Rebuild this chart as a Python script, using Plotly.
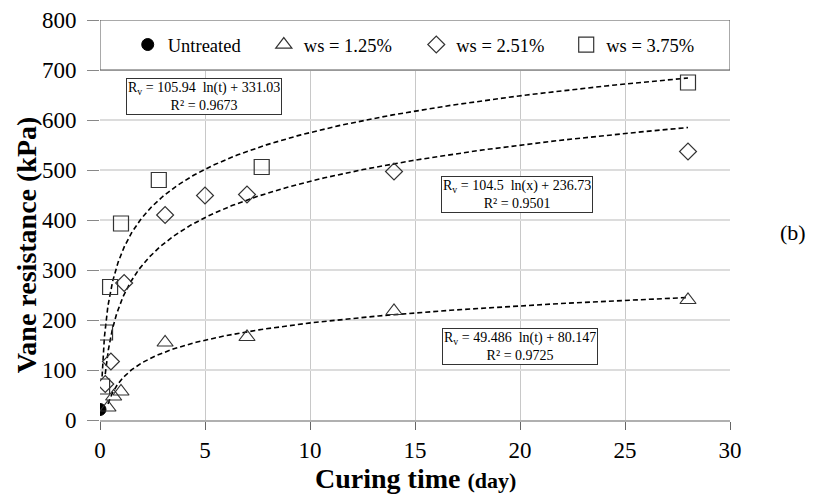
import numpy as np
import plotly.graph_objects as go

# ---- data ----
untreated_t = [0.0]
untreated_v = [21]

ws125_t = [0.38, 0.65, 1, 3.1, 7, 14, 28]
ws125_v = [25, 47, 57, 155, 166, 218, 240]

ws251_t = [0.25, 0.52, 1.15, 3.1, 5, 7, 14, 28]
ws251_v = [72, 117, 274, 410, 449, 451, 497, 537]

ws375_t = [0.1, 0.24, 0.48, 1, 2.8, 7.7, 28]
ws375_v = [67, 175, 266, 393, 480, 506, 675]

# logarithmic trend-line coefficients (a*ln(t)+b, R²) shown on the chart
fit125 = (49.486, 80.147, 0.9725)
fit251 = (104.5, 236.73, 0.9501)
fit375 = (105.94, 331.03, 0.9673)

x_ticks = [0, 5, 10, 15, 20, 25, 30]
y_ticks = [0, 100, 200, 300, 400, 500, 600, 700, 800]

FONT = "Liberation Serif, Times New Roman, serif"

fig = go.Figure()

def trend(ts, fit):
    t = np.geomspace(min(ts), max(ts), 300)
    return t, fit[0] * np.log(t) + fit[1]

for ts, fit in [(ws125_t, fit125), (ws251_t, fit251), (ws375_t, fit375)]:
    tt, vv = trend(ts, fit)
    fig.add_trace(go.Scatter(x=tt, y=vv, mode="lines", showlegend=False,
                             line=dict(color="black", width=1.6, dash="5px,3px"),
                             hoverinfo="skip"))

fig.add_trace(go.Scatter(x=untreated_t, y=untreated_v, mode="markers", name="Untreated",
                         legend="legend",
                         marker=dict(symbol="circle", size=12, color="black",
                                     line=dict(color="black", width=1))))
fig.add_trace(go.Scatter(x=ws125_t, y=ws125_v, mode="markers", name="ws = 1.25%",
                         legend="legend2",
                         marker=dict(symbol="triangle-up-open", size=14, color="#333333",
                                     line=dict(width=1.2))))
fig.add_trace(go.Scatter(x=ws251_t, y=ws251_v, mode="markers", name="ws = 2.51%",
                         legend="legend3",
                         marker=dict(symbol="diamond-open", size=13, color="#333333",
                                     line=dict(width=1.2))))
fig.add_trace(go.Scatter(x=ws375_t, y=ws375_v, mode="markers", name="ws = 3.75%",
                         legend="legend4",
                         marker=dict(symbol="square-open", size=15, color="#333333",
                                     line=dict(width=1.2))))

# legend frame across the top of the plot
fig.add_shape(type="rect", xref="x", yref="y", x0=0, x1=30, y0=700, y1=800,
              fillcolor="white", line=dict(color="#555555", width=1), layer="between")

def eq_text(fit, var):
    return (f"R<sub>v</sub> = {fit[0]:g}  ln({var}) + {fit[1]:g}<br>"
            f"R² = {fit[2]:g}")

ann_style = dict(showarrow=False, xref="x", yref="y",
                 font=dict(family=FONT, size=14, color="black"),
                 bordercolor="#333333", borderwidth=1, bgcolor="white", borderpad=1)
fig.add_annotation(x=4.95, y=648, text=eq_text(fit375, "t"), **ann_style)
fig.add_annotation(x=19.85, y=452, text=eq_text(fit251, "x"), **ann_style)
fig.add_annotation(x=20.0, y=148, text=eq_text(fit125, "t"), **ann_style)

# panel label
fig.add_annotation(x=1.0, y=0.47, xref="paper", yref="paper",
                   xanchor="center", yanchor="middle",
                   xshift=63, showarrow=False, text="(b)",
                   font=dict(family=FONT, size=22, color="black"))

# axis titles
fig.add_annotation(x=-0.117, y=0.4375, xref="paper", yref="paper", textangle=-90,
                   xanchor="center", yanchor="middle",
                   showarrow=False, text="<b>Vane resistance (kPa)</b>",
                   font=dict(family=FONT, size=28, color="black"))
fig.add_annotation(x=0.5, y=-0.145, xref="paper", yref="paper",
                   xanchor="center", yanchor="middle",
                   showarrow=False,
                   text="<b>Curing time <span style='font-size:22px'>(day)</span></b>",
                   font=dict(family=FONT, size=28, color="black"))

leg_common = dict(orientation="h", yanchor="middle", y=0.9375, xanchor="left",
                  bgcolor="rgba(0,0,0,0)", borderwidth=0, itemwidth=30,
                  font=dict(family=FONT, size=18.5, color="black"))
fig.update_layout(
    width=815, height=495,
    margin=dict(l=92, r=93, t=12, b=83, autoexpand=False),
    paper_bgcolor="white", plot_bgcolor="white",
    font=dict(family=FONT, color="black"),
    showlegend=True,
    legend=dict(x=0.044, **leg_common),
    legend2=dict(x=0.260, **leg_common),
    legend3=dict(x=0.502, **leg_common),
    legend4=dict(x=0.740, **leg_common),
    xaxis=dict(range=[0, 30], tickvals=x_ticks, showgrid=True, automargin=False,
               gridcolor="#c8c8c8", gridwidth=0.8, zeroline=False,
               showline=True, linecolor="#b0b0b0", linewidth=2,
               ticks="outside", ticklen=8, tickcolor="#666666",
               ticklabeloverflow="allow",
               tickfont=dict(family=FONT, size=23, color="black")),
    yaxis=dict(range=[0, 800], tickvals=y_ticks, showgrid=True, automargin=False,
               gridcolor="#dcdcdc", gridwidth=1.5, zeroline=False, showline=False,
               ticks="outside", ticklen=12, tickcolor="#888888",
               ticklabelstandoff=6, ticklabeloverflow="allow",
               tickfont=dict(family=FONT, size=23, color="black")),
)

fig.write_html("out.html")
